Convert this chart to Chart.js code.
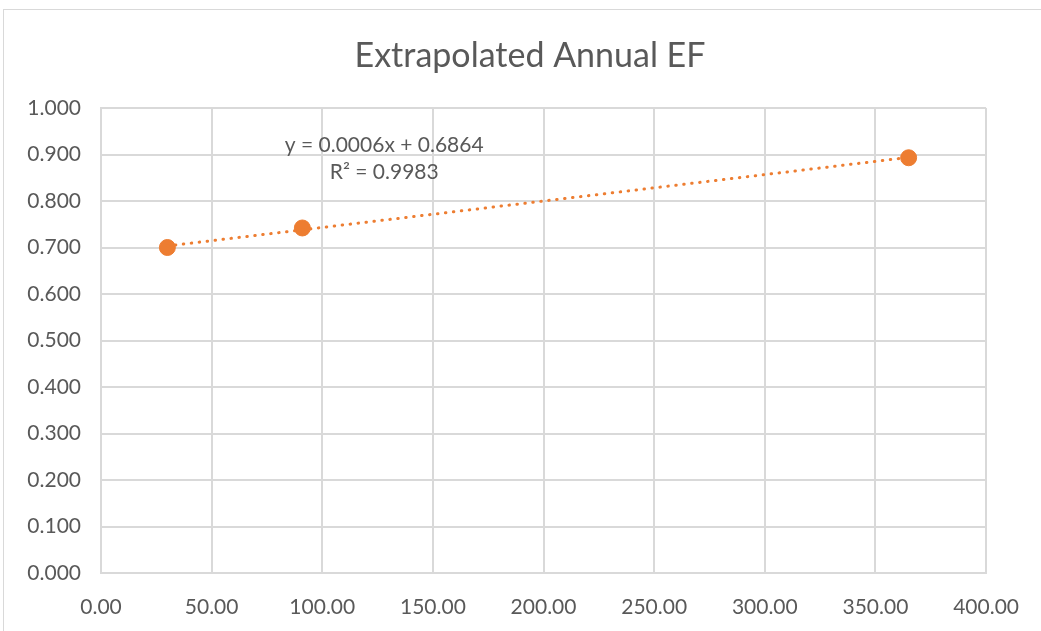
<!DOCTYPE html>
<html>
<head>
<meta charset="utf-8">
<script src="https://cdn.jsdelivr.net/npm/chart.js@4.4.1/dist/chart.umd.min.js"></script>
<style>
  html, body { margin: 0; padding: 0; background: #fff; overflow: hidden; }
  #wrap { position: relative; width: 1041px; height: 631px; }
  #frame { position: absolute; left: 3px; top: 9px; width: 1060px; height: 640px; border: 1px solid #d9d9d9; pointer-events: none; }
</style>
</head>
<body>
<div id="wrap">
  <canvas id="efChart" width="1041" height="631"></canvas>
  <div id="frame"></div>
</div>
<script>
// data
const chartTitle = 'Extrapolated Annual EF';
const days = [30, 91, 365];
const efValues = [0.700, 0.742, 0.893];
const xTicks = [0, 50, 100, 150, 200, 250, 300, 350, 400];
const yTicks = [0, 0.1, 0.2, 0.3, 0.4, 0.5, 0.6, 0.7, 0.8, 0.9, 1.0];
const trendText = ['y = 0.0006x + 0.6864', 'R\u00B2 = 0.9983'];

const orange = '#ED7D31';
const grey = '#595959';
const gridGrey = '#d9d9d9';
const fontFam = 'Lato, "Open Sans", sans-serif';

// least squares trendline through the points
const n = days.length;
const mx = days.reduce((a, b) => a + b, 0) / n;
const my = efValues.reduce((a, b) => a + b, 0) / n;
let sxy = 0, sxx = 0;
for (let i = 0; i < n; i++) {
  sxy += (days[i] - mx) * (efValues[i] - my);
  sxx += (days[i] - mx) * (days[i] - mx);
}
const slope = sxy / sxx;
const icpt = my - slope * mx;
const xMin = Math.min(...days), xMax = Math.max(...days);
const trendPts = [
  { x: xMin, y: icpt + slope * xMin },
  { x: xMax, y: icpt + slope * xMax }
];

// title + trendline label drawn by hand
const extrasPlugin = {
  id: 'extras',
  afterDraw(chart) {
    const c = chart.ctx;
    const xs = chart.scales.x, ys = chart.scales.y;
    c.save();
    c.fillStyle = grey;
    c.textAlign = 'center';
    c.textBaseline = 'middle';
    c.font = '34px ' + fontFam;
    c.fillText(chartTitle, 530, 56);
    c.font = '21px ' + fontFam;
    const lx = xs.getPixelForValue(128);
    c.fillText(trendText[0], lx, ys.getPixelForValue(0.92));
    c.fillText(trendText[1], lx, ys.getPixelForValue(0.862));
    c.restore();
  }
};

new Chart(document.getElementById('efChart'), {
  type: 'scatter',
  data: {
    datasets: [
      {
        label: 'trend',
        type: 'line',
        data: trendPts,
        borderColor: orange,
        borderWidth: 3,
        borderDash: [0.5, 7.5],
        borderCapStyle: 'round',
        pointRadius: 0,
        fill: false
      },
      {
        label: 'EF',
        data: days.map((d, i) => ({ x: d, y: efValues[i] })),
        backgroundColor: orange,
        borderColor: orange,
        pointRadius: 8,
        pointHoverRadius: 8
      }
    ]
  },
  plugins: [extrasPlugin],
  options: {
    responsive: false,
    animation: false,
    layout: { padding: { top: 108, right: 47, bottom: 0, left: 0 } },
    plugins: {
      legend: { display: false },
      tooltip: { enabled: false }
    },
    scales: {
      x: {
        type: 'linear',
        min: 0,
        max: 400,
        afterBuildTicks: (s) => { s.ticks = xTicks.map(v => ({ value: v })); },
        afterFit: (s) => { s.height = 58; },
        grid: { color: gridGrey, lineWidth: 2, drawTicks: false },
        border: { color: gridGrey, width: 2 },
        ticks: {
          padding: 22,
          color: grey,
          font: { family: fontFam, size: 21 },
          callback: (v) => v.toFixed(2)
        }
      },
      y: {
        min: 0,
        max: 1,
        afterBuildTicks: (s) => { s.ticks = yTicks.map(v => ({ value: v })); },
        afterFit: (s) => { s.width = 101; },
        grid: { color: gridGrey, lineWidth: 2, drawTicks: false },
        border: { color: gridGrey, width: 2 },
        ticks: {
          padding: 20,
          color: grey,
          font: { family: fontFam, size: 21 },
          callback: (v) => v.toFixed(3)
        }
      }
    }
  }
});
</script>
</body>
</html>
